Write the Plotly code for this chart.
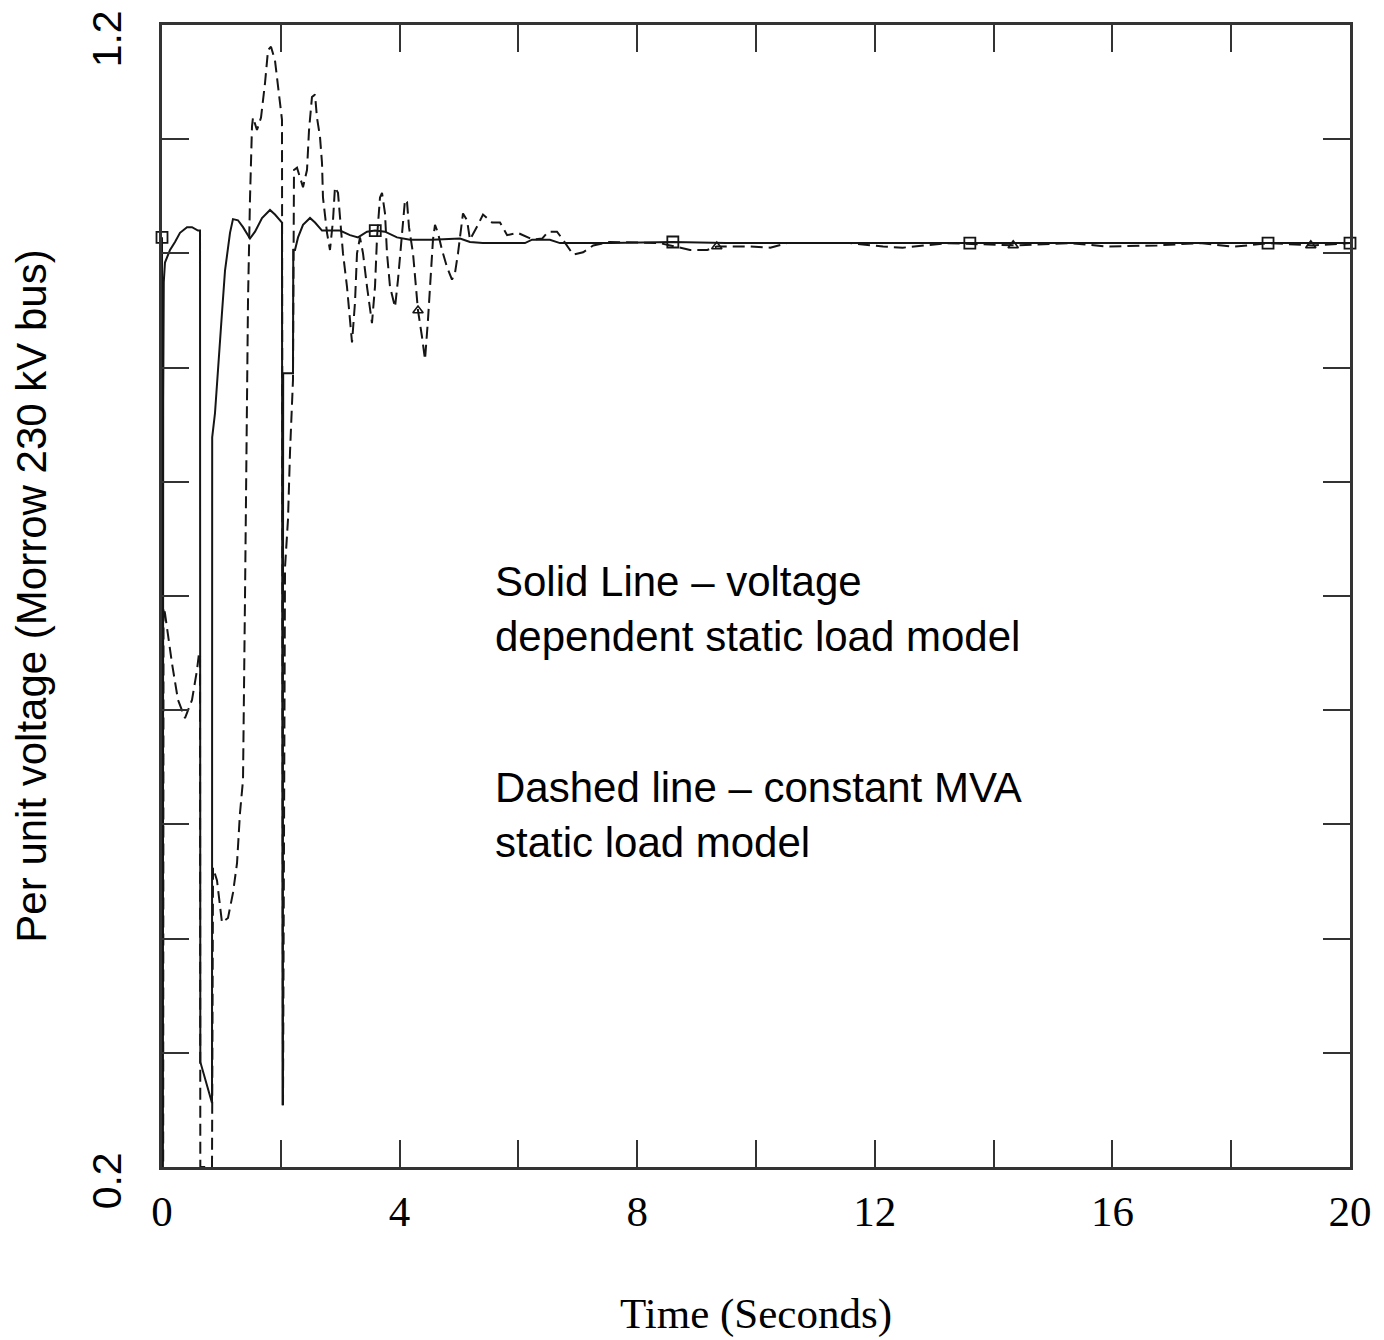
import plotly.graph_objects as go

# ---- Data ----
# Solid line: voltage dependent static load model
solid_t = [0.0, 0.005, 0.015, 0.02, 0.03, 0.05, 0.135, 0.219, 0.303, 0.421, 0.505, 0.606, 0.64,
           0.645, 0.842, 0.845, 0.892, 1.010, 1.061, 1.145, 1.195, 1.279, 1.364, 1.481, 1.566,
           1.684, 1.818, 1.902, 2.020, 2.030, 2.040, 2.205, 2.210, 2.239, 2.290, 2.374, 2.492,
           2.576, 2.694, 2.997, 3.165, 3.300, 3.451, 3.586, 3.754, 3.956, 4.175, 4.545, 5.017,
           5.185, 5.40, 6.11, 6.23, 6.53, 6.70, 7.54, 8.6, 9.5, 11.0, 13.6, 15.0, 17.0, 18.62, 20.0]
solid_v = [1.014, 0.2, 0.2, 0.87, 0.975, 0.992, 1.003, 1.010, 1.018, 1.023, 1.023, 1.020, 1.020,
           0.292, 0.256, 0.839, 0.860, 0.948, 0.985, 1.018, 1.030, 1.029, 1.023, 1.013, 1.019,
           1.031, 1.038, 1.034, 1.027, 0.254, 0.895, 0.895, 1.003, 1.003, 1.014, 1.025, 1.031,
           1.027, 1.020, 1.020, 1.016, 1.014, 1.019, 1.020, 1.019, 1.014, 1.012, 1.012, 1.013,
           1.010, 1.009, 1.009, 1.012, 1.012, 1.009, 1.009, 1.010, 1.009, 1.009, 1.009, 1.009,
           1.009, 1.009, 1.009]

# Dashed line: constant MVA static load model
dashed_t = [0.0, 0.005, 0.02, 0.025, 0.05, 0.168, 0.269, 0.387, 0.505, 0.589, 0.623, 0.64,
            0.645, 0.842, 0.859, 0.926, 1.010, 1.111, 1.195, 1.263, 1.313, 1.364, 1.397, 1.431,
            1.448, 1.481, 1.515, 1.532, 1.599, 1.667, 1.734, 1.785, 1.835, 1.902, 1.953, 2.020,
            2.037, 2.071, 2.121, 2.155, 2.205, 2.222, 2.273, 2.323, 2.374, 2.441, 2.475, 2.525,
            2.576, 2.609, 2.660, 2.694, 2.710, 2.778, 2.828, 2.879, 2.912, 2.963, 2.997, 3.047,
            3.114, 3.165, 3.199, 3.249, 3.283, 3.333, 3.384, 3.451, 3.535, 3.586, 3.620, 3.670,
            3.704, 3.754, 3.788, 3.838, 3.923, 3.973, 4.040, 4.091, 4.125, 4.158, 4.226, 4.276,
            4.310, 4.377, 4.428, 4.478, 4.529, 4.562, 4.596, 4.646, 4.714, 4.798, 4.882, 4.933,
            4.983, 5.034, 5.067, 5.135, 5.185, 5.32, 5.404, 5.556, 5.69, 5.81, 5.99, 6.246, 6.40,
            6.50, 6.65, 6.75, 6.92, 7.09, 7.26, 7.54, 8.38, 8.89, 9.18, 9.34, 9.90, 10.24, 10.52,
            11.58, 12.14, 12.47, 12.64, 13.22, 14.36, 15.29, 15.91, 16.75, 17.47, 18.03, 18.27,
            18.65, 19.38, 20.0]
dashed_v = [1.014, 0.2, 0.2, 0.69, 0.685, 0.641, 0.609, 0.593, 0.609, 0.635, 0.650, 0.650,
            0.2, 0.2, 0.462, 0.451, 0.414, 0.418, 0.440, 0.466, 0.510, 0.539, 0.697, 0.872,
            0.959, 1.047, 1.111, 1.119, 1.108, 1.119, 1.149, 1.178, 1.181, 1.169, 1.146, 1.117,
            0.254, 0.725, 0.767, 0.826, 0.889, 1.073, 1.075, 1.067, 1.058, 1.073, 1.108, 1.137,
            1.139, 1.119, 1.102, 1.079, 1.049, 1.018, 1.003, 1.029, 1.058, 1.053, 1.029, 1.000,
            0.971, 0.942, 0.922, 0.957, 1.000, 1.014, 1.000, 0.971, 0.939, 0.971, 1.014, 1.049,
            1.053, 1.035, 1.000, 0.971, 0.953, 0.977, 1.020, 1.047, 1.045, 1.023, 1.000, 0.971,
            0.950, 0.927, 0.907, 0.942, 0.983, 1.012, 1.025, 1.018, 1.003, 0.988, 0.977, 0.983,
            1.000, 1.023, 1.035, 1.029, 1.012, 1.025, 1.034, 1.027, 1.027, 1.016, 1.018, 1.012,
            1.013, 1.019, 1.019, 1.012, 0.999, 1.001, 1.007, 1.010, 1.009, 1.003, 1.003, 1.006,
            1.006, 1.005, 1.009, 1.009, 1.006, 1.005, 1.006, 1.009, 1.007, 1.009, 1.006, 1.007,
            1.009, 1.006, 1.007, 1.009, 1.007, 1.009]

# Plot symbols drawn on the curves
solid_marker_t = [0.0, 3.59, 8.6, 13.6, 18.62, 20.0]
solid_marker_v = [1.014, 1.020, 1.010, 1.009, 1.009, 1.009]
dashed_marker_t = [4.31, 9.34, 14.33, 19.34]
dashed_marker_v = [0.950, 1.006, 1.007, 1.007]

# Axis ticks and labels
x_tickvals = [0, 2, 4, 6, 8, 10, 12, 14, 16, 18, 20]
x_ticktext = ["0", "", "4", "", "8", "", "12", "", "16", "", "20"]
y_tickvals = [0.2, 0.3, 0.4, 0.5, 0.6, 0.7, 0.8, 0.9, 1.0, 1.1, 1.2]
y_ticktext = ["0.2", "", "", "", "", "", "", "", "", "", "1.2"]

x_title = "Time (Seconds)"
y_title = "Per unit voltage (Morrow 230 kV bus)"
note_solid = "Solid Line \u2013 voltage<br>dependent static load model"
note_dashed = "Dashed line \u2013 constant MVA<br>static load model"

INK = "#151515"
AXIS = "#333333"
SANS = "Liberation Sans, Arial, sans-serif"
SERIF = "Liberation Serif, Times New Roman, serif"

fig = go.Figure()
fig.add_trace(go.Scatter(x=dashed_t, y=dashed_v, mode="lines",
                         line=dict(color=INK, width=2, dash="12px,6px"),
                         name="Constant MVA", showlegend=False))
fig.add_trace(go.Scatter(x=solid_t, y=solid_v, mode="lines",
                         line=dict(color=INK, width=2),
                         name="Voltage dependent", showlegend=False))
fig.add_trace(go.Scatter(x=solid_marker_t, y=solid_marker_v, mode="markers",
                         marker=dict(symbol="square-open", size=11, color=INK,
                                     line=dict(width=1.8, color=INK)),
                         showlegend=False, cliponaxis=False))
fig.add_trace(go.Scatter(x=dashed_marker_t, y=dashed_marker_v, mode="markers",
                         marker=dict(symbol="triangle-up-open", size=9, color=INK,
                                     line=dict(width=1.6, color=INK)),
                         showlegend=False, cliponaxis=False))

fig.add_annotation(x=5.57, y=0.735, xref="x", yref="y", text=note_solid,
                   showarrow=False, xanchor="left", yanchor="top", align="left",
                   font=dict(family=SANS, size=42, color="black"))
fig.add_annotation(x=5.57, y=0.555, xref="x", yref="y", text=note_dashed,
                   showarrow=False, xanchor="left", yanchor="top", align="left",
                   font=dict(family=SANS, size=42, color="black"))

# The page adds an 8px body margin, so the figure is made 8px smaller
fig.update_layout(
    width=1376, height=1332,
    margin=dict(l=154, r=34, t=17, b=173),
    paper_bgcolor="white", plot_bgcolor="white",
    showlegend=False,
)
fig.update_xaxes(
    range=[0, 20], tickmode="array", tickvals=x_tickvals, ticktext=x_ticktext,
    ticks="inside", ticklen=27, tickwidth=2, tickcolor=AXIS,
    showline=True, linecolor=AXIS, linewidth=2.5, mirror="ticks",
    showgrid=False, zeroline=False, automargin=False,
    tickfont=dict(family=SERIF, size=43, color="black"),
    ticklabelstandoff=5, ticklabeloverflow="allow",
    title=dict(text=x_title, font=dict(family=SERIF, size=43, color="black"), standoff=64),
)
fig.update_yaxes(
    range=[0.2, 1.2], tickmode="array", tickvals=y_tickvals, ticktext=y_ticktext,
    ticks="inside", ticklen=27, tickwidth=2, tickcolor=AXIS,
    showline=True, linecolor=AXIS, linewidth=2.5, mirror="ticks",
    showgrid=False, zeroline=False, tickangle=-90, automargin=False,
    tickfont=dict(family=SANS, size=41, color="black"),
    ticklabelstandoff=22, ticklabelshift=20, ticklabeloverflow="allow",
    title=dict(text=y_title, font=dict(family=SANS, size=42, color="black"), standoff=27),
)

fig.write_html("out.html")
